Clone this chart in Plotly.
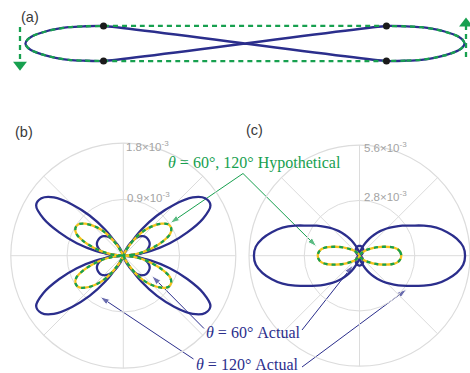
import plotly.graph_objects as go

W, H = 470, 373

BLUE = '#2b2e8c'
GREEN = '#17a04f'
YELLOW = '#f5c31c'
GRID = '#dcdcdc'
TICK = '#a3a3a3'
BLACK = '#1a1a1a'

# ---------------- panel (a): trajectory, normalized units ----------------
# right lobe, from the lower junction round the right end to the upper junction
lobe_x = [0.643, 0.734, 0.802, 0.861, 0.907, 0.943, 0.971, 0.989, 0.998,
          0.989, 0.971, 0.943, 0.907, 0.861, 0.802, 0.734, 0.643]
lobe_y = [-0.0795, -0.078, -0.074, -0.065, -0.0545, -0.043, -0.031, -0.017, 0.0,
          0.017, 0.031, 0.043, 0.0545, 0.065, 0.074, 0.078, 0.0795]
junction_x = [-0.643, 0.643, -0.643, 0.643]
junction_y = [0.0795, 0.0795, -0.0795, -0.0795]

# ---------------- panels (b), (c): azimuthal patterns (units of 1e-3) ----------------
# readings for phi = 0..90 deg every 5 deg; the patterns are symmetric about both axes
phi_q = list(range(0, 95, 5))
b_actual_120 = [0, 0.13, 0.45, 0.77, 1.09, 1.41, 1.61, 1.60, 1.45, 1.16, 0.84, 0.51,
                0.19, 0.03, 0, 0, 0, 0, 0]
b_actual_60 = [0, 0.225, 0.337, 0.402, 0.442, 0.466, 0.474, 0.474, 0.466, 0.442, 0.402,
               0.337, 0.249, 0.153, 0.072, 0.024, 0, 0, 0]
b_hyp = [0, 0.129, 0.305, 0.482, 0.675, 0.828, 0.884, 0.876, 0.796, 0.675, 0.530, 0.354,
         0.177, 0.056, 0, 0, 0, 0, 0]
c_actual_120 = [5.35, 5.275, 5.0, 4.6, 4.15, 3.6, 3.05, 2.65, 2.275, 1.95, 1.625, 1.3,
                1.0, 0.725, 0.5, 0.325, 0.2, 0.1, 0]
c_actual_60 = [0, 0.005, 0.015, 0.035, 0.06, 0.09, 0.125, 0.165, 0.21, 0.25, 0.29, 0.335,
               0.375, 0.41, 0.44, 0.465, 0.485, 0.495, 0.5]
c_hyp = [2.115, 2.075, 1.95, 1.675, 1.325, 1.025, 0.775, 0.575, 0.425, 0.3, 0.21, 0.14,
         0.09, 0.055, 0.03, 0.015, 0.005, 0, 0]

b_ticks = [0.9, 1.8]
b_ticktext = ['0.9×10<sup>-3</sup>', '1.8×10<sup>-3</sup>']
c_ticks = [2.8, 5.6]
c_ticktext = ['2.8×10<sup>-3</sup>', '5.6×10<sup>-3</sup>']


def full(q):
    th, rr = [], []
    step = phi_q[1] - phi_q[0]
    for k in range(int(360 / step) + 1):
        a = k * step
        m = a % 180
        idx = (m if m <= 90 else 180 - m) // step
        th.append(a)
        rr.append(q[idx])
    return th, rr


fig = go.Figure()

# ---- panel (a)
left_x = [-v for v in lobe_x]
actual_x = lobe_x + left_x + [lobe_x[0]]
actual_y = lobe_y + lobe_y + [lobe_y[0]]
hyp_x = lobe_x + left_x[::-1] + [lobe_x[0]]
hyp_y = lobe_y + lobe_y[::-1] + [lobe_y[0]]

fig.add_trace(go.Scatter(x=actual_x, y=actual_y, mode='lines',
                         line=dict(color=BLUE, width=2.3, shape='spline', smoothing=0.6),
                         xaxis='x', yaxis='y', showlegend=False, hoverinfo='skip'))
fig.add_trace(go.Scatter(x=hyp_x, y=hyp_y, mode='lines',
                         line=dict(color=GREEN, width=2.3, dash='5px,4px', shape='spline', smoothing=0.6),
                         xaxis='x', yaxis='y', showlegend=False, hoverinfo='skip'))
# direction arrows (dashed shaft + head)
fig.add_trace(go.Scatter(x=[-1.0227, -1.0227], y=[0.075, -0.089], mode='lines',
                         line=dict(color=GREEN, width=2.3, dash='5px,4px'),
                         xaxis='x', yaxis='y', showlegend=False, hoverinfo='skip'))
fig.add_trace(go.Scatter(x=[1.0045, 1.0045], y=[-0.061, 0.086], mode='lines',
                         line=dict(color=GREEN, width=2.3, dash='5px,4px'),
                         xaxis='x', yaxis='y', showlegend=False, hoverinfo='skip'))
fig.add_trace(go.Scatter(x=[-1.0227], y=[-0.0965], mode='markers',
                         marker=dict(symbol='triangle-down', size=12, color=GREEN),
                         xaxis='x', yaxis='y', showlegend=False, hoverinfo='skip'))
fig.add_trace(go.Scatter(x=[1.0045], y=[0.0905], mode='markers',
                         marker=dict(symbol='triangle-up', size=12, color=GREEN),
                         xaxis='x', yaxis='y', showlegend=False, hoverinfo='skip'))
fig.add_trace(go.Scatter(x=junction_x, y=junction_y, mode='markers',
                         marker=dict(size=7, color=BLACK),
                         xaxis='x', yaxis='y', showlegend=False, hoverinfo='skip'))

# pointer arrows from the labels: tail (x, y) -> head (x, y), in page pixels
pointers = [((243, 173.5), (170, 223.3), GREEN),
            ((243, 173.5), (316.7, 246.7), GREEN),
            ((204, 328.5), (151.7, 275.7), BLUE),
            ((302, 330), (353.3, 265), BLUE),
            ((193.5, 359), (100, 296.7), BLUE),
            ((302, 367), (406.7, 289.3), BLUE)]
for (tx, ty), (hx, hy), col in pointers:
    fig.add_trace(go.Scatter(x=[tx, hx], y=[ty, hy], mode='lines+markers',
                             line=dict(color=col, width=1),
                             marker=dict(symbol='arrow', size=[0, 10], color=col, angleref='previous'),
                             xaxis='x2', yaxis='y2', showlegend=False, hoverinfo='skip',
                             cliponaxis=False))


def add_pattern(sub, actual_big, actual_small, hyp):
    for q in (actual_big, actual_small):
        th, rr = full(q)
        fig.add_trace(go.Scatterpolar(theta=th, r=rr, mode='lines', subplot=sub,
                                      line=dict(color=BLUE, width=2.3, shape='spline', smoothing=1),
                                      showlegend=False, hoverinfo='skip'))
    th, rr = full(hyp)
    fig.add_trace(go.Scatterpolar(theta=th, r=rr, mode='lines', subplot=sub,
                                  line=dict(color=YELLOW, width=2.3, shape='spline', smoothing=1),
                                  showlegend=False, hoverinfo='skip'))
    fig.add_trace(go.Scatterpolar(theta=th, r=rr, mode='lines', subplot=sub,
                                  line=dict(color=GREEN, width=2.3, dash='4px,4px', shape='spline', smoothing=1),
                                  showlegend=False, hoverinfo='skip'))


add_pattern('polar', b_actual_120, b_actual_60, b_hyp)
add_pattern('polar2', c_actual_120, c_actual_60, c_hyp)


def polar_layout(xd, yd, rmax, ticks):
    return dict(
        domain=dict(x=xd, y=yd),
        bgcolor='rgba(0,0,0,0)',
        angularaxis=dict(showticklabels=False, ticks='', dtick=45, showgrid=True,
                         gridcolor=GRID, gridwidth=1, showline=True, linecolor=GRID,
                         linewidth=1.2, rotation=0, direction='counterclockwise'),
        radialaxis=dict(range=[0, rmax], tickvals=ticks, showticklabels=False, ticks='',
                        showline=False, showgrid=True, gridcolor=GRID, gridwidth=1, angle=90),
    )


annotations = []


def px(xp, yp):
    return xp / W, 1 - yp / H


# panel letters
for txt, (xp, yp) in [('(a)', (30, 16.5)), ('(b)', (23.5, 131.5)), ('(c)', (255, 130))]:
    x, y = px(xp, yp)
    annotations.append(dict(x=x, y=y, xref='paper', yref='paper', text=txt, showarrow=False,
                            xanchor='center', yanchor='middle',
                            font=dict(family='Liberation Sans, Arial', size=14.5, color='#3a3a3a')))

# radial tick labels
for txt, (xp, yp) in [(b_ticktext[1], (124, 146)), (b_ticktext[0], (125, 197)),
                      (c_ticktext[1], (361.5, 147)), (c_ticktext[0], (361.5, 196))]:
    x, y = px(xp, yp)
    annotations.append(dict(x=x, y=y, xref='paper', yref='paper', text=txt, showarrow=False,
                            xanchor='left', yanchor='middle',
                            font=dict(family='Liberation Sans, Arial', size=11.5, color=TICK)))

# curve labels
labels = [('<i>θ</i> = 60°, 120° Hypothetical', (255, 163), GREEN),
          ('<i>θ</i> = 60° Actual', (253.3, 332.5), BLUE),
          ('<i>θ</i> = 120° Actual', (247.5, 364), BLUE)]
for txt, (xp, yp), col in labels:
    x, y = px(xp, yp)
    annotations.append(dict(x=x, y=y, xref='paper', yref='paper', text=txt, showarrow=False,
                            xanchor='center', yanchor='middle',
                            font=dict(family='Liberation Serif, Times New Roman, serif', size=16, color=col)))

fig.update_layout(
    width=W, height=H,
    margin=dict(l=0, r=0, t=0, b=0),
    paper_bgcolor='white', plot_bgcolor='rgba(0,0,0,0)',
    xaxis=dict(domain=[0, 1], range=[-1.1136, 1.0227], visible=False, fixedrange=True),
    yaxis=dict(domain=[1 - 90 / H, 1], range=[-0.2114, 0.1977], visible=False, fixedrange=True),
    xaxis2=dict(domain=[0, 1], range=[0, W], visible=False, fixedrange=True, anchor='y2'),
    yaxis2=dict(domain=[0, 1], range=[H, 0], visible=False, fixedrange=True, anchor='x2'),
    polar=polar_layout([10.8 / W, 235.8 / W], [4.8 / H, 229.8 / H], 1.8, b_ticks),
    polar2=polar_layout([249 / W, 1.0], [6.8 / H, 227.8 / H], 5.6, c_ticks),
    annotations=annotations,
    showlegend=False,
)

fig.write_html('out.html')
